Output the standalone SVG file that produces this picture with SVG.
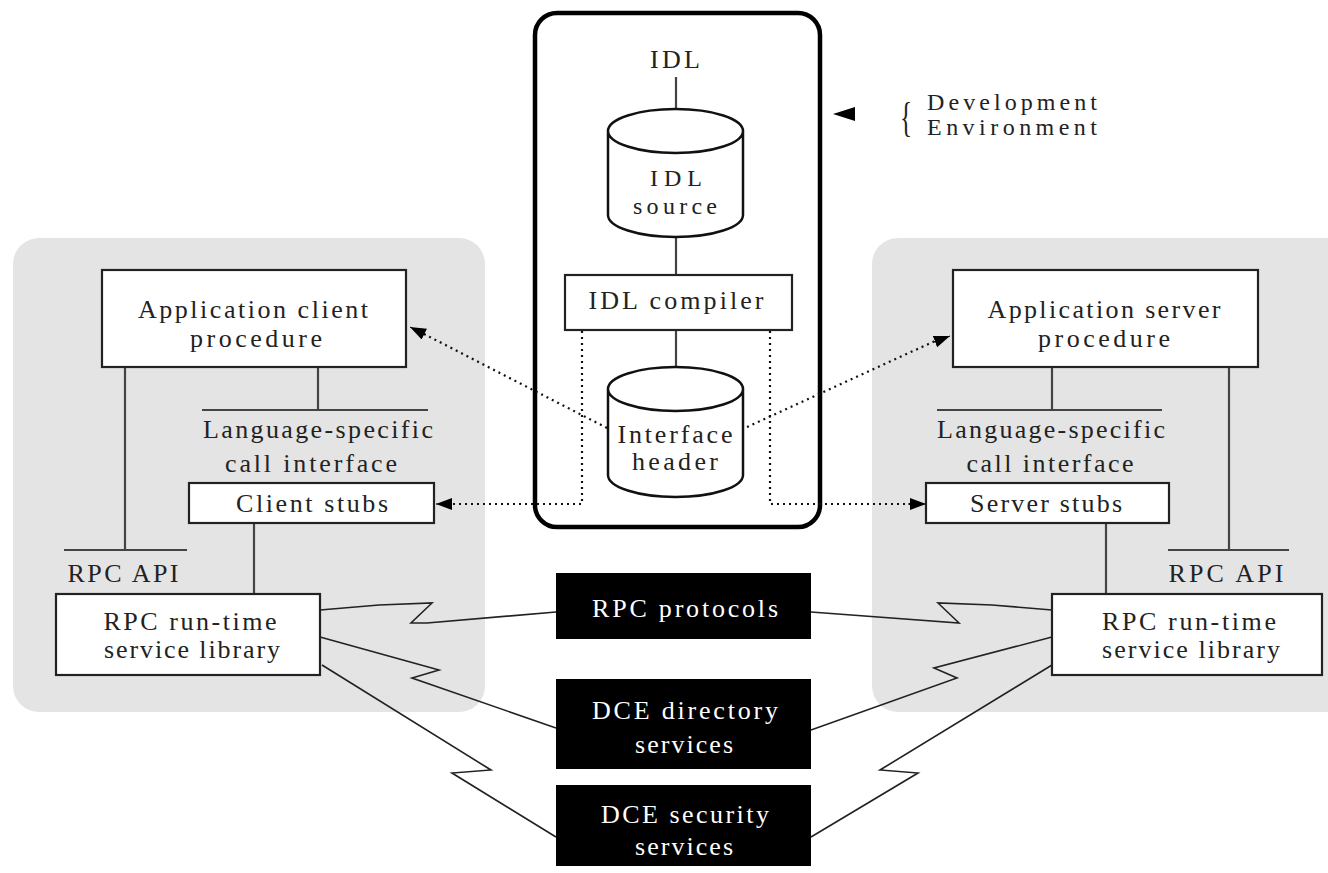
<svg xmlns="http://www.w3.org/2000/svg" width="1328" height="873" viewBox="0 0 1328 873">
<style>
  text { font-family: "Liberation Serif", "Times New Roman", serif; font-size: 26px; fill: #222; text-anchor: middle; }
  .w { fill: #fff; }
  .sm { font-size: 24px; }
  .panel { fill: #e4e4e4; stroke: none; }
  .box { fill: #fff; stroke: #222; stroke-width: 2.2; }
  .blk { fill: #000; stroke: none; }
  .cyl { fill: #fff; stroke: #111; stroke-width: 2.5; }
  .ln { fill: none; stroke: #444; stroke-width: 2.2; }
  .zz { fill: none; stroke: #222; stroke-width: 1.6; stroke-linejoin: miter; }
  .dot { fill: none; stroke: #111; stroke-width: 2.2; stroke-dasharray: 2 4; }
</style>
<defs>
  <marker id="arr" markerUnits="userSpaceOnUse" markerWidth="18" markerHeight="14" refX="16" refY="6" orient="auto">
    <path d="M0,0 L16,6 L0,12 z" fill="#000"/>
  </marker>
</defs>
<rect width="1328" height="873" fill="#fff"/>

<!-- panels -->
<g id="client-panel"><rect class="panel" x="13" y="238" width="472" height="474" rx="26"/></g>
<g id="server-panel"><rect class="panel" x="872" y="238" width="480" height="474" rx="26"/></g>

<!-- development environment -->
<g id="dev-env">
  <rect x="535" y="13" width="285" height="514" rx="22" fill="#fff" stroke="#000" stroke-width="4.5"/>
</g>

<!-- connectors -->
<g id="connectors">
  <line class="ln" x1="676" y1="77" x2="676" y2="109"/>
  <line class="ln" x1="676" y1="236" x2="676" y2="275"/>
  <line class="ln" x1="676" y1="330" x2="676" y2="367"/>
  <!-- dotted -->
  <polyline class="dot" points="582,331 582,504 452,504"/>
  <line x1="452" y1="504" x2="436" y2="504" stroke="#000" stroke-width="1" marker-end="url(#arr)"/>
  <polyline class="dot" points="770,331 770,504 910,504"/>
  <line x1="908" y1="504" x2="926" y2="504" stroke="#000" stroke-width="1" marker-end="url(#arr)"/>
  <line class="dot" x1="607" y1="428" x2="424" y2="334"/>
  <line x1="426" y1="335" x2="410" y2="327" stroke="#000" stroke-width="1" marker-end="url(#arr)"/>
  <line class="dot" x1="747" y1="427" x2="935" y2="341"/>
  <line x1="934" y1="342" x2="950" y2="336" stroke="#000" stroke-width="1" marker-end="url(#arr)"/>
  <!-- client side lines -->
  <line class="ln" x1="318" y1="367" x2="318" y2="410"/>
  <line class="ln" x1="202" y1="410" x2="428" y2="410"/>
  <line class="ln" x1="125" y1="367" x2="125" y2="550"/>
  <line class="ln" x1="64" y1="550" x2="187" y2="550"/>
  <line class="ln" x1="254" y1="523" x2="254" y2="594"/>
  <!-- server side lines -->
  <line class="ln" x1="1052" y1="367" x2="1052" y2="410"/>
  <line class="ln" x1="937" y1="410" x2="1162" y2="410"/>
  <line class="ln" x1="1229" y1="367" x2="1229" y2="550"/>
  <line class="ln" x1="1168" y1="550" x2="1289" y2="550"/>
  <line class="ln" x1="1106" y1="523" x2="1106" y2="594"/>
  <!-- lightning lines left -->
  <polyline class="zz" points="320,610 379,605 432,603 411,623 427,623 556,612"/>
  <polyline class="zz" points="320,637 439,670 412,678 556,728"/>
  <polyline class="zz" points="322,665 491,770 452,773 556,837"/>
  <!-- lightning lines right -->
  <polyline class="zz" points="1052,610 992,605 938,603 959,623 811,612"/>
  <polyline class="zz" points="1052,637 934,668 957,678 811,730"/>
  <polyline class="zz" points="1052,665 880,770 918,773 811,837"/>
  <!-- dev env pointer -->
  <path d="M833,114 L855,107 L855,121 z" fill="#000"/>
</g>

<g id="idl-label"><text x="675" y="68" textLength="50">IDL</text></g>

<g id="idl-source">
  <path class="cyl" d="M608,131 L608,215 A67.5,22 0 0 0 743,215 L743,131 A67.5,22 0 0 0 608,131 A67.5,22 0 0 0 743,131"/>
  <text class="sm" x="676" y="186" textLength="52">IDL</text>
  <text class="sm" x="675" y="214" textLength="84">source</text>
</g>

<g id="idl-compiler">
  <rect class="box" x="565" y="275" width="227" height="55"/>
  <text x="676" y="309" textLength="175">IDL compiler</text>
</g>

<g id="interface-header">
  <path class="cyl" d="M608,389 L608,475 A67.5,22 0 0 0 743,475 L743,389 A67.5,22 0 0 0 608,389 A67.5,22 0 0 0 743,389"/>
  <text x="675" y="443" textLength="115">Interface</text>
  <text x="675" y="470" textLength="86">header</text>
</g>

<g id="dev-env-label">
  <text x="906" y="131" style="font-size:42px" transform="translate(906 0) scale(0.6 1) translate(-906 0)">{</text>
  <text class="sm" x="927" y="110" style="text-anchor:start" textLength="170">Development</text>
  <text class="sm" x="927" y="135" style="text-anchor:start" textLength="170">Environment</text>
</g>

<g id="app-client">
  <rect class="box" x="102" y="270" width="304" height="97"/>
  <text x="253" y="318" textLength="230">Application client</text>
  <text x="256" y="347" textLength="132">procedure</text>
</g>
<g id="client-lang"><text x="318" y="438" textLength="230">Language-specific</text><text x="311" y="472" textLength="172">call interface</text></g>
<g id="client-stubs">
  <rect class="box" x="189" y="483" width="245" height="40"/>
  <text x="312" y="512" textLength="152">Client stubs</text>
</g>
<g id="client-rpc-api"><text x="123" y="582" textLength="111">RPC API</text></g>
<g id="client-runtime">
  <rect class="box" x="56" y="594" width="264" height="81"/>
  <text x="190" y="630" textLength="173">RPC run-time</text>
  <text x="192" y="658" textLength="176">service library</text>
</g>

<g id="app-server">
  <rect class="box" x="953" y="270" width="305" height="97"/>
  <text x="1104" y="318" textLength="233">Application server</text>
  <text x="1104" y="347" textLength="132">procedure</text>
</g>
<g id="server-lang"><text x="1051" y="438" textLength="228">Language-specific</text><text x="1050" y="472" textLength="167">call interface</text></g>
<g id="server-stubs">
  <rect class="box" x="926" y="483" width="243" height="40"/>
  <text x="1046" y="512" textLength="152">Server stubs</text>
</g>
<g id="server-rpc-api"><text x="1226" y="582" textLength="115">RPC API</text></g>
<g id="server-runtime">
  <rect class="box" x="1052" y="594" width="270" height="81"/>
  <text x="1189" y="630" textLength="174">RPC run-time</text>
  <text x="1191" y="658" textLength="178">service library</text>
</g>

<g id="rpc-protocols">
  <rect class="blk" x="556" y="573" width="255" height="66"/>
  <text class="w" x="685" y="617" textLength="186">RPC protocols</text>
</g>
<g id="dce-directory">
  <rect class="blk" x="556" y="679" width="255" height="90"/>
  <text class="w" x="685" y="719" textLength="186">DCE directory</text>
  <text class="w" x="684" y="753" textLength="98">services</text>
</g>
<g id="dce-security">
  <rect class="blk" x="556" y="785" width="255" height="81"/>
  <text class="w" x="685" y="823" textLength="168">DCE security</text>
  <text class="w" x="684" y="855" textLength="98">services</text>
</g>
</svg>
